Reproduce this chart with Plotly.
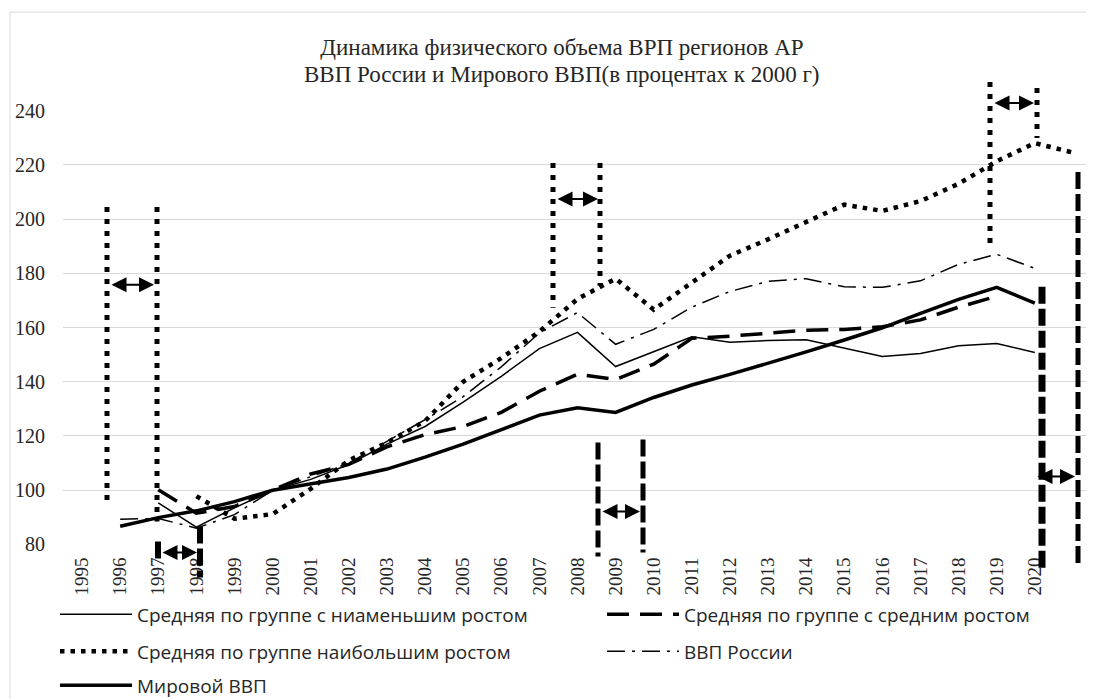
import plotly.graph_objects as go

# ---------------- data ----------------
years = [str(y) for y in range(1995, 2022)]
tick_years = [str(y) for y in range(1995, 2021)]

low_growth = [None, None, 95.3, 86.4, 93.5, 100, 104, 109.5, 117, 123.5, 132.5, 142, 152.2, 158.2,
              145.6, 151, 156.6, 154.6, 155.2, 155.5, 152.5, 149.3, 150.4, 153.3, 154.1, 150.8, None]
mid_growth = [None, None, 100.2, 91.5, 94, 100, 106, 109.5, 116, 120.5, 123.5, 128.7, 136.5, 142.8,
              140.8, 146.5, 156, 156.8, 158, 159, 159.3, 160.3, 162.8, 167.5, 171.5, None, None]
high_growth = [None, None, None, 97.8, 89.5, 91.2, 100.5, 111, 117.5, 125.5, 140, 148.7, 158.5, 170.5,
               178, 166.6, 176.6, 186.5, 192.5, 198.9, 205.3, 203, 206.6, 213, 221.3, 228, 224.5]
russia_gdp = [None, 89.3, 89.6, 86, 91, 100, 105, 110, 118, 126, 134.5, 145.5, 158, 165.5,
              153.8, 159.3, 167.5, 173.3, 177, 178, 175, 174.8, 177.2, 183.3, 187, 181.8, None]
world_gdp = [None, 86.7, 89.9, 92.4, 95.8, 100, 102.4, 104.7, 107.8, 112.2, 117, 122.2, 127.7, 130.4,
             128.7, 134.2, 138.8, 142.7, 146.7, 151, 155.4, 159.9, 165.2, 170.4, 174.8, 169, None]

names = ["Средняя по группе с ниаменьшим ростом", "Средняя по группе с средним ростом",
         "Средняя по группе наибольшим ростом", "ВВП России", "Мировой ВВП"]

title_line1 = "Динамика физического объема ВРП регионов АР"
title_line2 = "ВВП России и Мирового ВВП(в процентах к 2000 г)"

# ---------------- layout geometry ----------------
# page body has an 8px margin: figure is drawn 8px right / 8px down
OFF = 8
W_FIG, H_FIG = 1094 - OFF, 699 - OFF
# plot area in screen (reference) pixels
L, R, T, B = 63, 1092, 110, 545.5
PW, PH = R - L, B - T

SERIF = "Liberation Serif, Times New Roman, DejaVu Serif, serif"


def px2x(px):
    return (px - L) / PW


def px2y(py):
    return (B - py) / PH


fig = go.Figure()

styles = [
    dict(width=1.5, dash="solid"),
    dict(width=3.5, dash="22px,11px"),
    dict(width=4.5, dash="4.5px,6px"),
    dict(width=1.5, dash="18px,7px,3px,7px"),
    dict(width=3.5, dash="solid"),
]
legend_ids = ["legend", "legend2", "legend3", "legend4", "legend5"]
series = [low_growth, mid_growth, high_growth, russia_gdp, world_gdp]

for name, vals, st, lg in zip(names, series, styles, legend_ids):
    fig.add_trace(go.Scatter(
        x=years, y=vals, name=name, mode="lines",
        line=dict(color="black", width=st["width"], dash=st["dash"]),
        connectgaps=False, legend=lg, hoverinfo="skip"))

# ---------------- decorative annotation shapes ----------------
shapes = []
# chart border
shapes.append(dict(type="rect", xref="paper", yref="paper",
                   x0=px2x(10), x1=px2x(1110), y0=px2y(12), y1=px2y(720),
                   line=dict(color="#d9d9d9", width=1), fillcolor="rgba(0,0,0,0)", layer="below"))

dotted_lines = [  # x, y_top, y_bottom
    (107, 207, 507), (157, 207, 522),
    (553, 163, 308), (600, 163, 286),
    (990, 82, 250), (1037, 88, 138),
]
for x, y0, y1 in dotted_lines:
    shapes.append(dict(type="line", xref="paper", yref="paper",
                       x0=px2x(x), x1=px2x(x), y0=px2y(y0), y1=px2y(y1),
                       line=dict(color="black", width=5, dash="5px,7px")))

dashed_lines = [  # x, y_top, y_bottom, width
    (158, 542, 563, 6), (200, 527, 578, 6),
    (598, 443, 557, 5), (643, 440, 553, 5),
    (1042, 287, 570, 7), (1078, 172, 567, 5),
]
for x, y0, y1, w in dashed_lines:
    shapes.append(dict(type="line", xref="paper", yref="paper",
                       x0=px2x(x), x1=px2x(x), y0=px2y(y0), y1=px2y(y1),
                       line=dict(color="black", width=w, dash="17px,5px")))

fig.update_layout(shapes=shapes)

arrows = [  # x_start, x_end, y
    (110, 154, 285), (556, 598, 199), (993, 1034, 103),
    (161, 197, 553), (601, 640, 512), (1036, 1075, 477),
]
for xs, xe, y in arrows:
    fig.add_annotation(x=px2x(xe), y=px2y(y), xref="paper", yref="paper",
                       ax=-(xe - xs), ay=0, axref="pixel", ayref="pixel",
                       text="", showarrow=True, arrowhead=2, arrowside="end+start",
                       arrowsize=1.5, arrowwidth=2, arrowcolor="black",
                       standoff=0, startstandoff=0)

# second title line
fig.add_annotation(x=px2x(562), y=px2y(74), xref="paper", yref="paper",
                   text=title_line2, showarrow=False, xanchor="center", yanchor="middle",
                   font=dict(family=SERIF, size=23, color="#262626"))

legend_common = dict(orientation="v", xanchor="left", yanchor="middle", itemwidth=72,
                     bgcolor="rgba(0,0,0,0)", borderwidth=0,
                     font=dict(family="Open Sans", size=19, color="#262626"))

# legend positions: (line start x, row center y) in screen pixels
legend_pos = [(55, 615), (602, 615), (55, 652), (602, 652), (55, 686)]
legend_layout = {}
for lg, (lx, ly) in zip(legend_ids, legend_pos):
    legend_layout[lg] = dict(x=px2x(lx), y=px2y(ly), **legend_common)

fig.update_layout(
    width=W_FIG, height=H_FIG,
    margin=dict(l=L - OFF, r=W_FIG - (R - OFF), t=T - OFF, b=H_FIG - (B - OFF), autoexpand=False),
    paper_bgcolor="white", plot_bgcolor="white",
    title=dict(text=title_line1, x=(562 - OFF) / W_FIG, xanchor="center", xref="container",
               y=1 - (47 - OFF) / H_FIG, yanchor="middle",
               font=dict(family=SERIF, size=23, color="#262626")),
    xaxis=dict(type="category", categoryorder="array", categoryarray=years,
               range=[-0.5, 26.5], tickvals=tick_years, ticktext=tick_years,
               tickangle=-90, showgrid=False, zeroline=False, showline=False,
               ticks="outside", ticklen=4, tickcolor="rgba(0,0,0,0)",
               tickfont=dict(family=SERIF, size=19, color="#262626")),
    yaxis=dict(range=[79.8, 240.2], tick0=80, dtick=20, showgrid=True,
               gridcolor="#d9d9d9", gridwidth=1.3, zeroline=False, showline=False,
               ticks="outside", ticklen=13, tickcolor="rgba(0,0,0,0)",
               tickfont=dict(family=SERIF, size=20, color="#262626")),
    showlegend=True,
    **legend_layout,
)

fig.write_html("out.html")
